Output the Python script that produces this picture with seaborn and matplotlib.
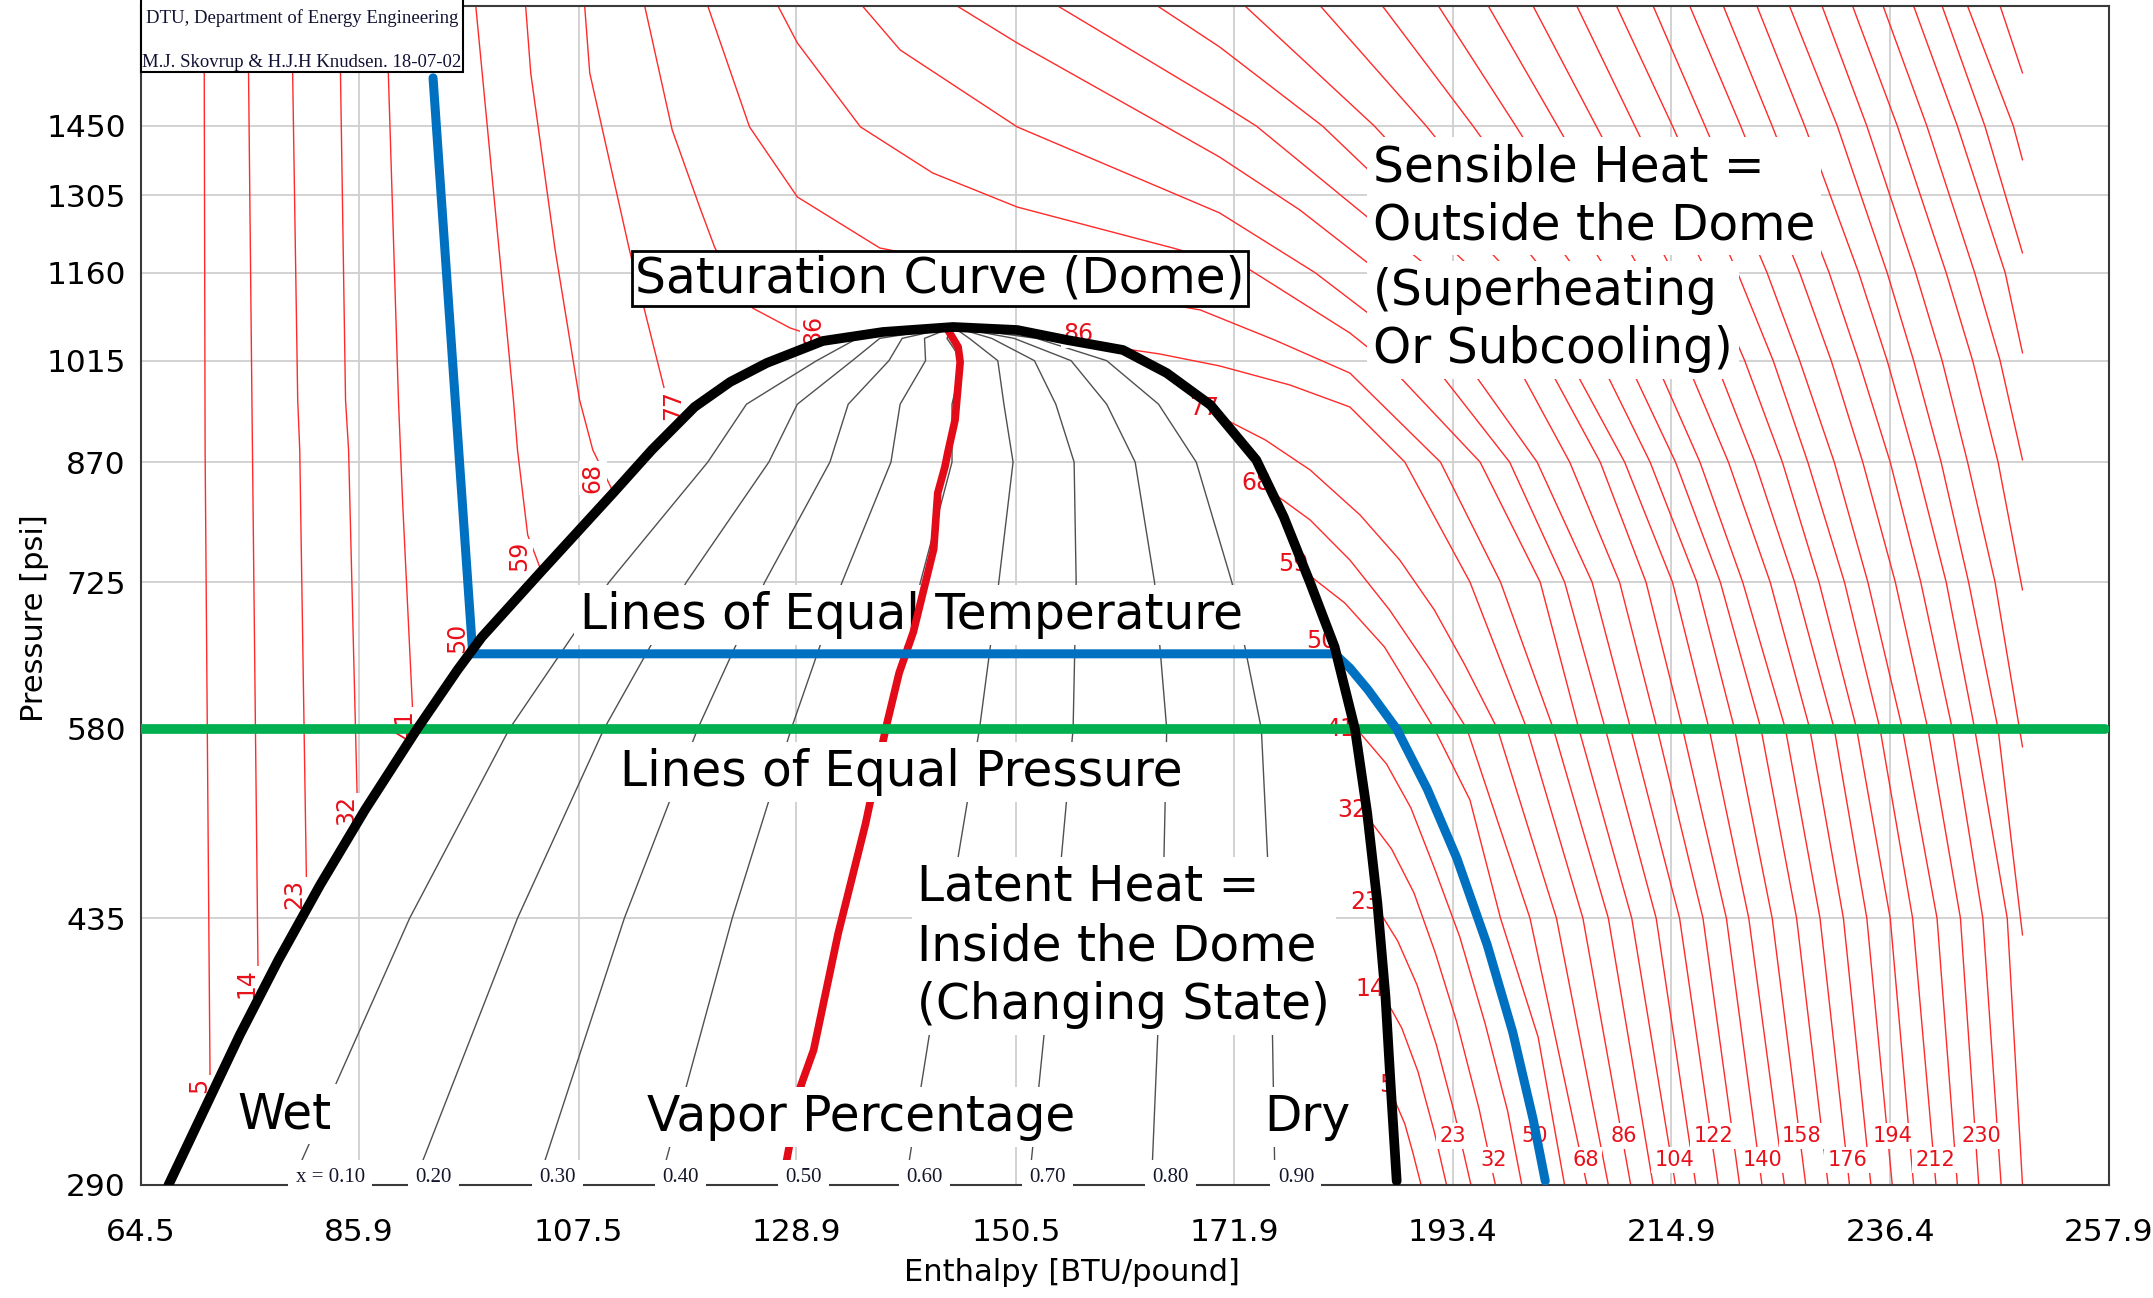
import matplotlib
matplotlib.use("Agg")
import matplotlib.pyplot as plt
import pandas as pd
import seaborn as sns
from matplotlib.patches import Rectangle
from matplotlib.ticker import NullLocator

# ---------------- axes ----------------
X_TICKS = [64.5, 85.9, 107.5, 128.9, 150.5, 171.9, 193.4, 214.9, 236.4, 257.9]
Y_TICKS = [290, 435, 580, 725, 870, 1015, 1160, 1305, 1450]
X_RANGE = (64.5, 257.9)
Y_RANGE = (290, 1740)

# ---------------- saturation dome ----------------
DOME_H = [67.2, 70.7, 74.2, 78.0, 82.1, 86.5, 91.7, 95.6, 98.0, 103.7, 110.9, 114.7, 118.9,
          122.4, 126.0, 131.5, 137.4, 144.3,
          150.6, 155.5, 161.0, 165.3, 169.6, 174.1, 176.8, 179.4, 181.8, 183.8, 185.0,
          186.0, 186.8, 187.3, 187.9]
DOME_P = [290.0, 325.0, 364.2, 408.2, 457.5, 512.7, 580.8, 634.3, 666.9, 735.1, 830.1, 886.2,
          946.0, 982.7, 1011.5, 1045.8, 1060.2, 1068.3,
          1063.4, 1047.4, 1031.6, 996.1, 948.9, 872.8, 800.4, 724.0, 656.9, 579.9, 510.4,
          445.2, 385.9, 338.1, 291.8]

# ---------------- vapour quality lines ----------------
QUALITY = [0.1, 0.2, 0.3, 0.4, 0.5, 0.6, 0.7, 0.8, 0.9]
QUALITY_LABELS = ["x = 0.10", "0.20", "0.30", "0.40", "0.50", "0.60", "0.70", "0.80", "0.90"]
QUALITY_P = [301, 435, 580, 725, 870, 950, 1015, 1050, 1068.3]
QUALITY_H = [
    [80.3, 90.9, 100.7, 110.5, 120.2, 124.0, 130.9, 134.9, 144.3],
    [92.2, 101.5, 110.0, 118.1, 126.2, 129.0, 134.4, 137.1, 144.3],
    [104.2, 112.0, 119.2, 125.8, 132.2, 134.0, 138.0, 139.3, 144.3],
    [116.1, 122.6, 128.4, 133.4, 138.2, 139.1, 141.6, 141.5, 144.3],
    [128.1, 133.2, 137.7, 141.1, 144.2, 144.2, 145.2, 143.7, 144.3],
    [140.0, 143.8, 146.9, 148.8, 150.2, 149.3, 148.7, 145.9, 144.3],
    [152.0, 154.4, 156.1, 156.4, 156.2, 154.4, 152.3, 148.1, 144.3],
    [163.9, 164.9, 165.3, 164.1, 162.2, 159.4, 155.9, 150.3, 144.3],
    [175.9, 175.5, 174.6, 171.7, 168.2, 164.5, 159.4, 152.5, 144.3],
]
QUALITY_LABEL_H = [83.1, 93.2, 105.4, 117.5, 129.6, 141.5, 153.6, 165.7, 178.0]

# ---------------- highlighted lines ----------------
BLUE_H = [93.2, 97.1, 181.8, 183.3, 185.1, 187.9, 190.9, 193.8, 196.8, 199.3, 201.3, 202.5]
BLUE_P = [1560, 650.1, 650.1, 636.2, 615.3, 579.9, 529.4, 476.7, 417.6, 365.9, 320.6, 291.8]
RED_H = [143.8, 144.8, 145.0, 144.5, 143.8, 143.5, 142.8, 142.4, 140.4, 139.0, 137.7, 135.7,
         133.0, 130.6, 129.3, 127.9]
RED_P = [1063.4, 1036.3, 1013.0, 927.5, 883.5, 863.6, 830.1, 762.4, 672.0, 631.4, 580.8,
         502.0, 424.7, 356.0, 336.6, 299.9]
GREEN_H = [64.5, 257.5]
GREEN_P = [580, 580]

# ---------------- isotherms (deg F) ----------------
LIQ_T = [5, 14, 23, 32, 41, 59, 68, 77, 86]
LIQ_H = [[70.7, 70.8, 71.2, 71.3],
         [75.0, 75.4, 76.0, 76.2],
         [79.3, 79.9, 80.1, 80.8],
         [84.0, 84.6, 84.9, 85.8],
         [88.6, 89.8, 90.2, 91.3],
         [97.4, 101.1, 101.5, 102.5, 103.8],
         [102.3, 102.8, 105.2, 107.6, 108.9, 110.9],
         [108.1, 108.6, 112.5, 116.2, 118.3],
         [114.0, 116.7, 119.4, 120.9, 124.6, 128.3, 131.6]]
LIQ_P = [[1740, 886.2, 402.1, 332.0],
         [1740, 956.2, 402.1, 384.2],
         [1740, 956.2, 886.2, 441.8],
         [1740, 956.2, 886.2, 505.0],
         [1740, 956.2, 821.3, 576.4],
         [1740, 956.2, 886.2, 778.8, 738.4],
         [1740, 1571.5, 1201, 956.2, 886.2, 831.4],
         [1740, 1571.5, 1201, 956.2, 935.0],
         [1740, 1441.3, 1282, 1204.6, 1099.5, 1066.6, 1049]]

VAP_T = [5, 14, 23, 32, 41, 59, 68, 77, 86]
VAP_H = [[187.4, 188.7, 189.5, 190.3],
         [186.7, 188.4, 190.0, 191.6, 192.8],
         [186.1, 188.0, 189.9, 191.8, 193.6, 195.2],
         [185.1, 187.4, 189.6, 191.7, 193.8, 196.0, 197.6],
         [184.3, 186.9, 189.3, 191.6, 194.1, 196.6, 198.8, 200.2],
         [178.9, 182.8, 186.7, 191.6, 195.1, 198.1, 201.8, 204.4],
         [175.5, 179.4, 183.3, 187.2, 191.2, 194.8, 201.0, 206.6],
         [170.4, 175.0, 179.4, 184.3, 188.2, 191.6, 194.6, 197.8, 203.6, 208.7],
         [156.0, 164.6, 170.5, 177.4, 183.3, 188.7, 195.1, 200.7, 206.2, 210.9]]
VAP_P = [[333.5, 318.2, 304.4, 290],
         [385.9, 368.1, 344.4, 314.3, 290],
         [440.5, 420.2, 393.0, 358.8, 323.0, 290],
         [506.5, 483.2, 452.0, 412.6, 371.5, 325.5, 290],
         [576.4, 549.9, 514.3, 469.5, 422.8, 370.4, 324.5, 290],
         [736.2, 702.3, 656.9, 580, 520.6, 435, 363.1, 290],
         [832.6, 796.7, 749.7, 694.9, 634.3, 580, 435, 290],
         [933.2, 899.7, 859.6, 802.8, 749.7, 694.9, 639.2, 580, 435, 290],
         [1045.8, 1025.4, 1006.9, 978.2, 946.0, 870, 725, 580, 435, 290]]

SC_T = [95, 104, 113, 122, 131, 140]
SC_H = [[120.2, 124.3, 129.0, 137.1, 148.9, 158.7, 168.6, 175.9, 183.3, 192.2, 198.1, 203.3, 208.7, 213.1],
        [127.1, 129.0, 135.2, 142.3, 150.6, 165.9, 173.5, 183.3, 186.7, 196.1, 202.0, 205.8, 211.0, 215.3],
        [135.4, 139.1, 150.6, 170.5, 179.9, 191.2, 199.0, 204.4, 208.4, 213.4, 217.3],
        [144.7, 150.6, 165.1, 170.5, 178.4, 186.3, 194.6, 201.7, 207.1, 210.9, 215.7, 219.5],
        [154.6, 170.5, 174.1, 191.7, 199.5, 204.9, 209.8, 213.5, 218.0, 221.6],
        [164.4, 170.5, 180.6, 195.7, 202.5, 207.9, 212.4, 216.0, 220.3, 223.8]]
SC_P = [[1740, 1448, 1301.7, 1204.6, 1161.5, 1126.6, 1096.3, 1047.4, 996.1, 870, 725, 580, 435, 290],
        [1740, 1645, 1448, 1350, 1282, 1204.6, 1165, 1058.6, 1015, 870, 725, 580, 435, 290],
        [1740, 1627.6, 1448, 1270.5, 1160, 1015, 870, 725, 580, 435, 290],
        [1740, 1645, 1450, 1383, 1276, 1160, 1015, 870, 725, 580, 435, 290],
        [1740, 1501.6, 1450, 1160, 1015, 870, 725, 580, 435, 290],
        [1740, 1635, 1450, 1160, 1015, 870, 725, 580, 435, 290]]

P_LEVELS = [1740, 1450, 1160, 1015, 870, 725, 580, 435, 290]
HI_T = [149, 158, 167, 176, 185, 194, 203, 212, 221, 230, 239, 248]
HI_H = [[173.0, 185.7, 199.0, 204.9, 210.3, 215.0, 218.6, 222.5, 226.0],
        [180.4, 190.8, 202.5, 207.9, 212.8, 217.4, 221.1, 224.8, 228.1],
        [186.5, 195.4, 205.7, 210.6, 215.3, 219.7, 223.7, 227.2, 230.3],
        [192.0, 199.6, 208.7, 213.3, 217.7, 221.9, 226.1, 229.5, 232.4],
        [196.9, 203.7, 212.0, 216.3, 220.5, 224.6, 228.5, 231.8, 234.5],
        [201.3, 207.5, 215.1, 219.2, 223.1, 227.0, 230.9, 234.1, 236.6],
        [205.6, 211.3, 218.4, 222.1, 225.8, 229.4, 233.1, 236.4, 238.7],
        [209.5, 215.0, 221.4, 224.9, 228.3, 231.9, 235.4, 238.6, 240.9],
        [213.1, 218.2, 224.3, 227.5, 230.9, 234.2, 237.6, 241.0, 243.0],
        [216.7, 221.7, 227.5, 230.6, 233.7, 236.9, 240.1, 243.3, 245.1],
        [220.0, 224.8, 230.4, 233.3, 236.4, 239.4, 242.5, 245.5, 247.3],
        [223.3, 228.0, 233.3, 236.1, 238.9, 241.9, 244.7, 247.9, 249.4]]

CLIP_T = [257, 266, 275, 284, 293, 302, 311, 320]
CLIP_H = [[226.5, 231.2, 236.1, 238.7, 241.4, 244.1, 247.0, 249.4],
          [229.7, 234.1, 238.9, 241.5, 244.0, 246.7, 249.4],
          [232.7, 237.1, 241.9, 244.5, 247.0, 249.4],
          [235.7, 240.0, 244.7, 247.2, 249.4],
          [238.7, 243.0, 247.7, 249.4],
          [241.5, 245.7, 249.4],
          [244.0, 248.5, 249.4],
          [247.2, 249.4]]
CLIP_P = [[1740, 1450, 1160, 1015, 870, 725, 580, 424.0],
          [1740, 1450, 1160, 1015, 870, 725, 564.3],
          [1740, 1450, 1160, 1015, 870, 716.3],
          [1740, 1450, 1160, 1015, 872.8],
          [1740, 1450, 1160, 1026.9],
          [1740, 1450, 1195.4],
          [1740, 1450, 1377],
          [1740, 1571.5]]

# temperature labels
LEFT_LAB_T = [5, 14, 23, 32, 41, 50, 59, 68, 77, 86]
LEFT_LAB_H = [70.2, 74.9, 79.6, 84.7, 90.4, 95.6, 101.7, 108.9, 116.8, 130.6]
LEFT_LAB_P = [337.6, 394.2, 451.3, 512.7, 584.4, 665.9, 754.3, 849.2, 948.9, 1063.4]
RIGHT_LAB_T = [86, 77, 68, 59, 50, 41, 32, 23, 14, 5]
RIGHT_LAB_H = [156.6, 169.0, 174.1, 177.7, 180.5, 182.4, 183.5, 184.8, 185.3, 186.9]
RIGHT_LAB_P = [1057, 944.6, 842.8, 745.2, 662.9, 579.9, 512.7, 445.8, 390.6, 337.6]
BOT_TOP_T = [23, 50, 86, 122, 158, 194, 230]
BOT_TOP_H = [193.4, 201.5, 210.2, 219.0, 227.7, 236.6, 245.4]
BOT_LOW_T = [32, 68, 104, 140, 176, 212]
BOT_LOW_H = [197.4, 206.5, 215.2, 223.9, 232.2, 240.8]

# ---------------- build long tables ----------------
rows = []
cid = 0
for group_T, group_H, group_P in [(LIQ_T, LIQ_H, LIQ_P), (VAP_T, VAP_H, VAP_P),
                                  (SC_T, SC_H, SC_P), (CLIP_T, CLIP_H, CLIP_P)]:
    for T, hs, ps in zip(group_T, group_H, group_P):
        for i, (h, p) in enumerate(zip(hs, ps)):
            rows.append(dict(curve=cid, order=i, h=h, P=p))
        cid += 1
for T, hs in zip(HI_T, HI_H):
    for i, (h, p) in enumerate(zip(hs, P_LEVELS)):
        rows.append(dict(curve=cid, order=i, h=h, P=p))
    cid += 1
iso_df = pd.DataFrame(rows)

qrows = []
for q, hs in zip(QUALITY, QUALITY_H):
    for i, (h, p) in enumerate(zip(hs, QUALITY_P)):
        qrows.append(dict(q=q, order=i, h=h, P=p))
q_df = pd.DataFrame(qrows)

# ---------------- plotting ----------------
sns.set_theme(style="whitegrid")
plt.rcParams['font.family'] = ['DejaVu Sans']
plt.rcParams['text.color'] = 'black'
plt.rcParams['axes.labelcolor'] = 'black'
plt.rcParams['xtick.color'] = 'black'
plt.rcParams['ytick.color'] = 'black'

fig = plt.figure(figsize=(21.53, 12.98), dpi=100)
ax = fig.add_axes([141 / 2153, 113 / 1298, 1968 / 2153, 1179 / 1298])
ax.set_facecolor('white')
ax.set_yscale('log')

sns.lineplot(data=iso_df, x='h', y='P', units='curve', estimator=None, sort=False,
             color='#FF2A2A', lw=1.0, ax=ax, zorder=1.5)
sns.lineplot(data=q_df, x='h', y='P', units='q', estimator=None, sort=False,
             color='#505050', lw=1.0, ax=ax, zorder=1.6)
sns.lineplot(x=RED_H, y=RED_P, sort=False, estimator=None, color='#E30B17', lw=5.5,
             ax=ax, zorder=4)
sns.lineplot(x=GREEN_H, y=GREEN_P, sort=False, estimator=None, color='#00B050', lw=7,
             ax=ax, zorder=4.5)
sns.lineplot(x=BLUE_H, y=BLUE_P, sort=False, estimator=None, color='#0070C0', lw=6.5,
             ax=ax, zorder=5)
sns.lineplot(x=DOME_H, y=DOME_P, sort=False, estimator=None, color='black', lw=7,
             ax=ax, zorder=5.5)

ax.set_xlim(*X_RANGE)
ax.set_ylim(*Y_RANGE)
ax.set_xticks(X_TICKS)
ax.set_xticklabels([f"{v:.1f}" for v in X_TICKS])
ax.set_yticks(Y_TICKS)
ax.set_yticklabels([str(v) for v in Y_TICKS])
ax.yaxis.set_minor_locator(NullLocator())
ax.xaxis.set_minor_locator(NullLocator())
ax.grid(True, which='major', color='#CFCFCF', lw=1.3, zorder=0.5)
ax.set_axisbelow(True)
ax.tick_params(axis='both', labelsize=22.5, length=5, color='#333333', direction='out',
               labelcolor='black')
ax.tick_params(axis='x', pad=19)
ax.tick_params(axis='y', pad=6)
for s in ax.spines.values():
    s.set_visible(True)
    s.set_color('#3A3A3A')
    s.set_linewidth(1.5)

ax.set_xlabel('Enthalpy [BTU/pound]', fontsize=22, color='black')
ax.set_ylabel('Pressure [psi]', fontsize=22, color='black')
ax.xaxis.set_label_coords(0.473, -0.062)
ax.yaxis.set_label_coords(-0.047, 0.481)

# quality labels (cover the bottom spine like the original)
for lab, h in zip(QUALITY_LABELS, QUALITY_LABEL_H):
    ax.text(h, 293.5, lab, ha='center', va='center', fontsize=15, family='Liberation Serif',
            color='#14142B', zorder=7, clip_on=False,
            bbox=dict(boxstyle='square,pad=0.35', fc='white', ec='none'))

# temperature labels
red = '#E8101A'
lab_box = dict(boxstyle='square,pad=0.08', fc='white', ec='none')
for t, h, p in zip(LEFT_LAB_T, LEFT_LAB_H, LEFT_LAB_P):
    ax.text(h, p, str(t), rotation=90, ha='center', va='center', fontsize=17, color=red,
            zorder=2, bbox=lab_box)
for t, h, p in zip(RIGHT_LAB_T, RIGHT_LAB_H, RIGHT_LAB_P):
    ax.text(h, p, str(t), ha='center', va='center', fontsize=17, color=red, zorder=2,
            bbox=lab_box)
for t, h in zip(BOT_TOP_T, BOT_TOP_H):
    ax.text(h, 312.4, str(t), ha='center', va='center', fontsize=15, color=red, zorder=2,
            bbox=dict(boxstyle='square,pad=0.15', fc='white', ec='none'))
for t, h in zip(BOT_LOW_T, BOT_LOW_H):
    ax.text(h, 301.2, str(t), ha='center', va='center', fontsize=15, color=red, zorder=2,
            bbox=dict(boxstyle='square,pad=0.15', fc='white', ec='none'))

# annotation texts
FS = 35
wbox = dict(boxstyle='square,pad=0.12', fc='white', ec='none')
ax.text(143.0, 1150, 'Saturation Curve (Dome)', ha='center', va='center', fontsize=FS,
        zorder=6, bbox=dict(boxstyle='square,pad=0.07', fc='white', ec='black', lw=2))
ax.text(140.2, 689.7, 'Lines of Equal Temperature', ha='center', va='center', fontsize=FS,
        zorder=3.5, bbox=wbox)
ax.text(139.2, 543.3, 'Lines of Equal Pressure', ha='center', va='center', fontsize=FS,
        zorder=6, bbox=wbox)
ax.text(140.8, 417.0, 'Latent Heat =\nInside the Dome\n(Changing State)', ha='left',
        va='center', fontsize=FS, linespacing=1.3, zorder=6, bbox=wbox)
ax.text(185.6, 1303.0, 'Sensible Heat =\nOutside the Dome', ha='left', va='center',
        fontsize=FS, linespacing=1.27, zorder=3.5, bbox=wbox)
ax.text(185.6, 1080.0, '(Superheating\nOr Subcooling)', ha='left', va='center',
        fontsize=FS, linespacing=1.27, zorder=3.5, bbox=wbox)
ax.text(78.6, 323, 'Wet', ha='center', va='center', fontsize=FS, zorder=6, bbox=wbox)
ax.text(135.3, 321.6, 'Vapor Percentage', ha='center', va='center', fontsize=FS, zorder=6,
        bbox=wbox)
ax.text(179.1, 321.6, 'Dry', ha='center', va='center', fontsize=FS, zorder=6, bbox=wbox)

# credit box at top-left
ax.add_patch(Rectangle((0, 0.944), 0.1636, 0.08, transform=ax.transAxes, fc='white',
                       ec='black', lw=1.5, zorder=8, clip_on=False))
ax.text(0.0025, 0.9898, 'DTU, Department of Energy Engineering', transform=ax.transAxes,
        ha='left', va='center', fontsize=13.5, family='Liberation Serif', zorder=9,
        color='#111133')
ax.text(0.0005, 0.9525, 'M.J. Skovrup & H.J.H Knudsen. 18-07-02', transform=ax.transAxes,
        ha='left', va='center', fontsize=13.5, family='Liberation Serif', zorder=9,
        color='#111133')

fig.savefig('out.png', dpi=100)
